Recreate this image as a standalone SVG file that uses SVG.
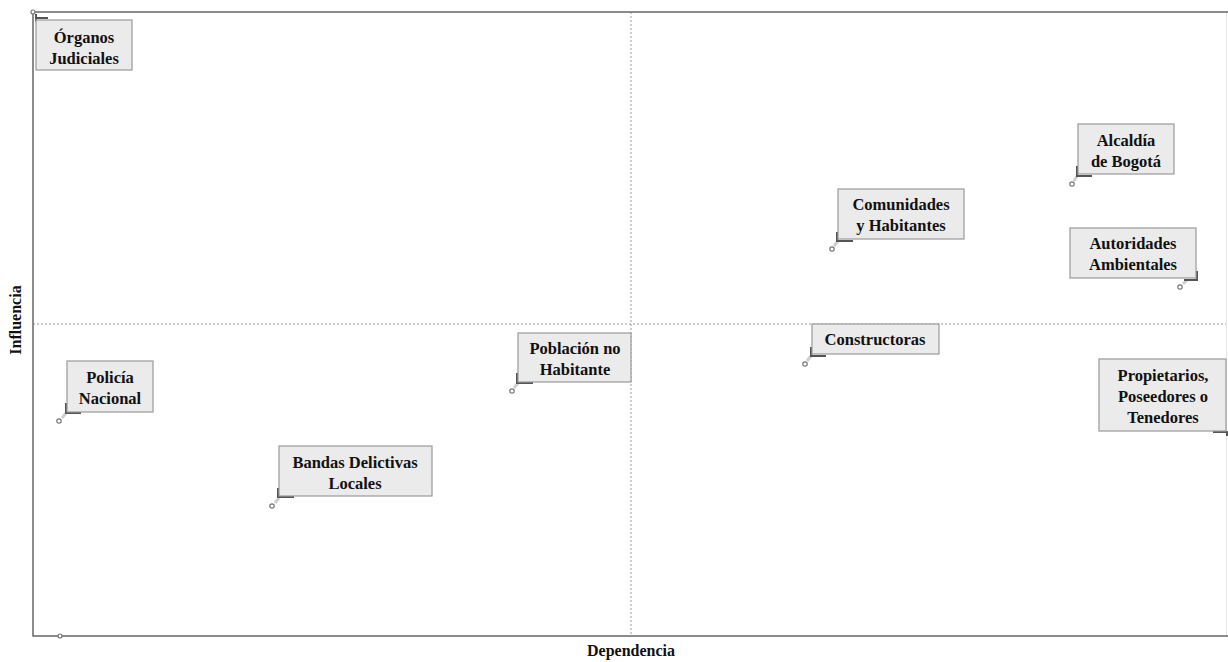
<svg xmlns="http://www.w3.org/2000/svg" width="1228" height="662" viewBox="0 0 1228 662">
<style>
.box{fill:#ebebeb;stroke:#9a9a9a;stroke-width:1.2}
.t{font-family:'Liberation Serif','Times New Roman',serif;font-weight:bold;font-size:16.5px;fill:#111;text-anchor:middle}
.ax{font-family:'Liberation Serif','Times New Roman',serif;font-weight:bold;font-size:16px;fill:#111;text-anchor:middle}
.dash{stroke:#999;stroke-width:1;stroke-dasharray:2 2;fill:none}
.L{stroke:#555;stroke-width:2;fill:none}
.lead{stroke:#cfcfcf;stroke-width:3;fill:none}
.pt{fill:#fff;stroke:#777;stroke-width:1.2}
</style>
<rect width="1228" height="662" fill="#fff"/>
<g id="axes">
<line x1="631" y1="12" x2="631" y2="636" class="dash"/>
<line x1="33" y1="324" x2="1228" y2="324" class="dash"/>
<line x1="1226.5" y1="12" x2="1226.5" y2="636" stroke="#e6e6e6" stroke-width="1"/>
<path d="M33 12 H1228 M33 12 V636 H1228" stroke="#666" stroke-width="1.5" fill="none"/>
<text class="ax" x="631" y="656">Dependencia</text>
<text class="ax" transform="translate(21 320) rotate(-90)">Influencia</text>
</g>
<g id="connectors">
<path class="L" d="M36 14 V22 M36 18 H48"/>
<circle class="pt" cx="33" cy="12" r="2"/>
<path class="lead" d="M1074 181 L1077 176"/><path class="L" d="M1077 166 V176 H1092"/><circle class="pt" cx="1072" cy="184" r="2.2"/>
<path class="lead" d="M834 246 L838 241"/><path class="L" d="M837 232 V241 H853"/><circle class="pt" cx="832" cy="249" r="2.2"/>
<path class="lead" d="M1183 284 L1187 280"/><path class="L" d="M1184 280 H1197 V271"/><circle class="pt" cx="1180" cy="287" r="2.2"/>
<path class="lead" d="M514 388 L518 383"/><path class="L" d="M517 373 V383 H533"/><circle class="pt" cx="512" cy="391" r="2.2"/>
<path class="lead" d="M807 361 L811 356"/><path class="L" d="M811 347 V356 H826"/><circle class="pt" cx="805" cy="364" r="2.2"/>
<path class="lead" d="M62 418 L66 413"/><path class="L" d="M66 403 V413 H81"/><circle class="pt" cx="59" cy="421" r="2.2"/>
<path class="lead" d="M275 503 L279 498"/><path class="L" d="M278 488 V497 H294"/><circle class="pt" cx="272" cy="506" r="2.2"/>
<path class="L" d="M1213 432 H1227 V436" stroke="#888"/>
<circle class="pt" cx="60" cy="636" r="2"/>
</g>
<g id="organos"><rect class="box" x="36" y="20" width="96" height="50"/><text class="t" x="84" y="43">Órganos</text><text class="t" x="84" y="64">Judiciales</text></g>
<g id="alcaldia"><rect class="box" x="1078" y="124" width="96" height="50"/><text class="t" x="1126" y="146">Alcaldía</text><text class="t" x="1126" y="167">de Bogotá</text></g>
<g id="comunidades"><rect class="box" x="838" y="189" width="126" height="50"/><text class="t" x="901" y="210">Comunidades</text><text class="t" x="901" y="231">y Habitantes</text></g>
<g id="autoridades"><rect class="box" x="1070" y="228" width="126" height="50"/><text class="t" x="1133" y="249">Autoridades</text><text class="t" x="1133" y="270">Ambientales</text></g>
<g id="poblacion"><rect class="box" x="518" y="333" width="113" height="49"/><text class="t" x="575" y="354">Población no</text><text class="t" x="575" y="375">Habitante</text></g>
<g id="constructoras"><rect class="box" x="812" y="324" width="127" height="30"/><text class="t" x="875" y="345">Constructoras</text></g>
<g id="propietarios"><rect class="box" x="1099" y="359" width="127" height="72"/><text class="t" x="1163" y="381">Propietarios,</text><text class="t" x="1163" y="402">Poseedores o</text><text class="t" x="1163" y="423">Tenedores</text></g>
<g id="policia"><rect class="box" x="67" y="361" width="86" height="51"/><text class="t" x="110" y="383">Policía</text><text class="t" x="110" y="404">Nacional</text></g>
<g id="bandas"><rect class="box" x="279" y="446" width="153" height="50"/><text class="t" x="355" y="468">Bandas Delictivas</text><text class="t" x="355" y="489">Locales</text></g>
</svg>
